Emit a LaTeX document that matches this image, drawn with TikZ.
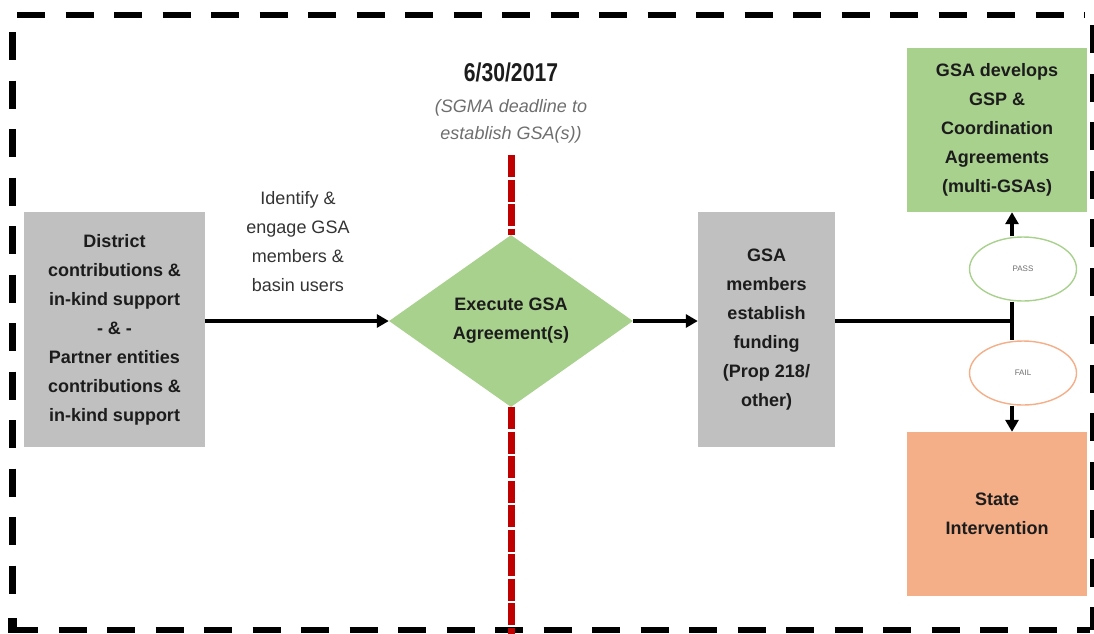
\documentclass[tikz,border=0pt]{standalone}
\usepackage{fontspec}
\setmainfont{Liberation Sans}
\usetikzlibrary{shapes.geometric,arrows.meta}

\definecolor{boxgray}{HTML}{C0C0C0}
\definecolor{boxgreen}{HTML}{A9D18E}
\definecolor{boxsalmon}{HTML}{F4AE88}
\definecolor{deadred}{HTML}{C00000}
\definecolor{notegray}{HTML}{6E6E6E}
\definecolor{labelgray}{HTML}{333333}
\definecolor{darktext}{HTML}{1C1C1C}

\tikzset{
  boxtext/.style={font=\fontsize{18}{29}\selectfont\bfseries, align=center, text=darktext},
  graybox/.style={boxtext, fill=boxgray, inner sep=0pt},
  greenbox/.style={boxtext, fill=boxgreen, inner sep=0pt},
  statebox/.style={boxtext, fill=boxsalmon, inner sep=0pt},
  decision/.style={boxtext, diamond, fill=boxgreen, inner sep=0pt,
    minimum width=244pt, minimum height=172pt},
  outcome/.style={ellipse, draw, line width=1.4pt, fill=white,
    minimum width=107pt, minimum height=64pt, inner sep=0pt,
    font=\fontsize{8}{9}\selectfont, text=notegray},
  conn/.style={line width=3.8pt, draw=black},
  arrowconn/.style={conn, -{Triangle[length=12pt,width=13pt]}},
  framedash/.style={line width=6.5pt, draw=black, dash pattern=on 28pt off 20.5pt},
  deadline/.style={line width=7pt, draw=deadred, dash pattern=on 22pt off 2.5pt},
}

\begin{document}
\begin{tikzpicture}[x=1pt,y=-1pt]
\useasboundingbox (0,0) rectangle (1094,633);

% outer dashed frame
\draw[framedash] (17,15) -- (1085,15);
\draw[framedash] (12.5,32) -- (12.5,605);
\draw[framedash] (10,630) -- (1090,630);
\draw[framedash] (1093,25) -- (1093,630);
\fill (8,618) rectangle (17,633);

% deadline marker
\node[font=\fontsize{23}{26}\selectfont\bfseries, text=darktext] (date) at (511,72)
  {\scalebox{0.92}[1.12]{6/30/2017}};
\node[font=\fontsize{18}{27}\selectfont\itshape, text=notegray, align=center] (note) at (511,121)
  {(SGMA deadline to\\establish GSA(s))};

% process nodes
\node[graybox, minimum width=181pt, minimum height=235pt] (src) at (114.5,329.5)
  {District\\contributions \&\\in-kind support\\- \& -\\Partner entities\\contributions \&\\in-kind support};
\node[decision] (exec) at (511,321) {Execute GSA\\Agreement(s)};
\node[graybox, minimum width=137pt, minimum height=235pt] (fund) at (766.5,329.5)
  {GSA\\members\\establish\\funding\\(Prop 218/\\other)};
\node[greenbox, minimum width=180pt, minimum height=164pt] (gsp) at (997,130)
  {GSA develops\\GSP \&\\Coordination\\Agreements\\(multi-GSAs)};
\node[statebox, minimum width=180pt, minimum height=164pt] (state) at (997,514)
  {State\\Intervention};
\node[outcome, draw=boxgreen] (pass) at (1023,269) {PASS};
\node[outcome, draw=boxsalmon] (fail) at (1023,373) {FAIL};

\node[font=\fontsize{18}{29}\selectfont, text=labelgray, align=center] (engage) at (298,242)
  {Identify \&\\engage GSA\\members \&\\basin users};

% deadline line through the decision
\coordinate (dtop) at (511,155);
\coordinate (dbot) at (511,640);
\draw[deadline] (dtop) -- (exec.north);
\draw[deadline] (exec.south) -- (dbot);

% connectors
\coordinate (j) at (1012,321);
\draw[arrowconn] (src.east |- exec.west) -- (exec.west);
\draw[arrowconn] (exec.east) -- (fund.west |- exec.east);
\draw[conn] (fund.east |- j) -- (j);
\draw[conn] (pass.south -| j) -- (fail.north -| j);
\draw[arrowconn] (pass.north -| j) -- (gsp.south -| j);
\draw[arrowconn] (fail.south -| j) -- (state.north -| j);
\end{tikzpicture}
\end{document}
